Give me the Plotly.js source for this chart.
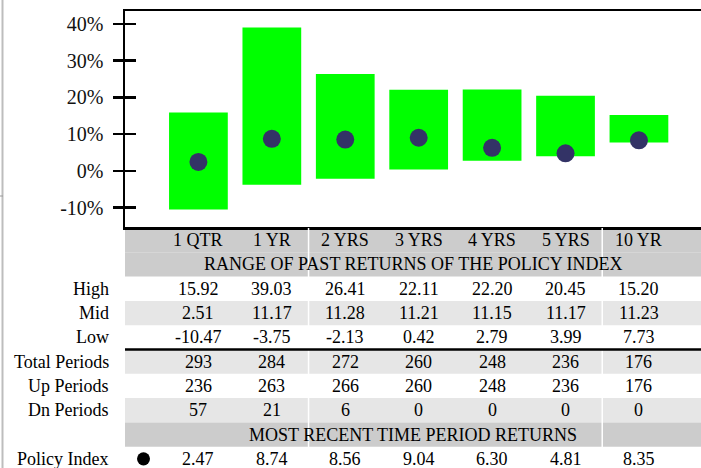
<!DOCTYPE html>
<html>
<head>
<meta charset="utf-8">
<script src="https://cdn.plot.ly/plotly-3.0.1.min.js"></script>
<style>html,body{margin:0;padding:0;background:#fff;}#chart{width:701px;height:468px;}</style>
</head>
<body>
<div id="chart"></div>
<script>
const categories = ['1 QTR', '1 YR', '2 YRS', '3 YRS', '4 YRS', '5 YRS', '10 YR'];
const high = [15.92, 39.03, 26.41, 22.11, 22.20, 20.45, 15.20];
const mid = [2.51, 11.17, 11.28, 11.21, 11.15, 11.17, 11.23];
const low = [-10.47, -3.75, -2.13, 0.42, 2.79, 3.99, 7.73];
const totalPeriods = [293, 284, 272, 260, 248, 236, 176];
const upPeriods = [236, 263, 266, 260, 248, 236, 176];
const dnPeriods = [57, 21, 6, 0, 0, 0, 0];
const policyIndex = [2.47, 8.74, 8.56, 9.04, 6.30, 4.81, 8.35];
const yTickVals = [-10, 0, 10, 20, 30, 40];
const yTickText = ['-10%', '0%', '10%', '20%', '30%', '40%'];
const rangeTitle = 'RANGE OF PAST RETURNS OF THE POLICY INDEX';
const recentTitle = 'MOST RECENT TIME PERIOD RETURNS';

const W = 701, H = 468;
const plotLeft = 125, plotTop = 11, plotBottom = 227, tableTop = 228;
const FONT = 'Liberation Serif, Times New Roman, serif';
const xIdx = categories.map((c, i) => i);

const traces = [
  {
    type: 'bar', x: xIdx, base: low, y: high.map((h, i) => h - low[i]),
    marker: {color: '#00ff00', line: {width: 0}}, width: 0.8,
    hoverinfo: 'skip', showlegend: false, xaxis: 'x', yaxis: 'y'
  },
  {
    type: 'scatter', mode: 'markers', x: xIdx, y: policyIndex,
    marker: {color: '#333366', size: 18}, hoverinfo: 'skip', showlegend: false,
    xaxis: 'x', yaxis: 'y'
  },
  {
    type: 'scatter', mode: 'markers', x: xIdx, y: policyIndex,
    marker: {opacity: 0}, hoverinfo: 'skip', showlegend: false,
    xaxis: 'x', yaxis: 'y3'
  }
];

const rowsY = {header: 0, range: 1, high: 2, mid: 3, low: 4, total: 5, up: 6, dn: 7, recent: 8, policy: 9};
const annotations = [];
const cellFont = {family: FONT, size: 18, color: '#000'};
function cell(x, row, text, xref) {
  annotations.push({x: x, y: row, xref: xref || 'x', yref: 'y2', text: text, showarrow: false,
    font: cellFont, xanchor: 'center', yanchor: 'middle'});
}
function label(row, text) {
  annotations.push({x: 111 / W, y: row, xref: 'paper', yref: 'y2', text: text, showarrow: false,
    font: cellFont, xanchor: 'right', yanchor: 'middle'});
}
categories.forEach((c, i) => {
  cell(i, rowsY.header, c);
  cell(i, rowsY.high, high[i].toFixed(2));
  cell(i, rowsY.mid, mid[i].toFixed(2));
  cell(i, rowsY.low, low[i].toFixed(2));
  cell(i, rowsY.total, String(totalPeriods[i]));
  cell(i, rowsY.up, String(upPeriods[i]));
  cell(i, rowsY.dn, String(dnPeriods[i]));
  cell(i, rowsY.policy, policyIndex[i].toFixed(2));
});
cell((plotLeft + W) / 2 / W, rowsY.range, rangeTitle, 'paper');
cell((plotLeft + W) / 2 / W, rowsY.recent, recentTitle, 'paper');
label(rowsY.high, 'High');
label(rowsY.mid, 'Mid');
label(rowsY.low, 'Low');
label(rowsY.total, 'Total Periods');
label(rowsY.up, 'Up Periods');
label(rowsY.dn, 'Dn Periods');
label(rowsY.policy, 'Policy Index');

const shapes = [];
function band(row, color) {
  shapes.push({type: 'rect', xref: 'paper', yref: 'y2', x0: plotLeft / W, x1: 1,
    y0: row - 0.5, y1: row + 0.5, fillcolor: color, line: {width: 0}, layer: 'below'});
}
band(rowsY.header, '#cccccc');
band(rowsY.range, '#cccccc');
band(rowsY.mid, '#e6e6e6');
band(rowsY.total, '#e6e6e6');
band(rowsY.dn, '#e6e6e6');
band(rowsY.recent, '#cccccc');
// white column separators
[1.5, 5.5].forEach(xv => {
  shapes.push({type: 'line', xref: 'x', yref: 'y2', x0: xv, x1: xv, y0: -0.5, y1: 9.5,
    line: {color: '#ffffff', width: 1.5}, layer: 'below'});
});
// black separator between Low and Total Periods
shapes.push({type: 'line', xref: 'paper', yref: 'y2', x0: plotLeft / W, x1: 1, y0: 4.5, y1: 4.5,
  line: {color: '#000', width: 2.5}});
// legend dot in policy row
shapes.push({type: 'circle', xref: 'paper', yref: 'y2', x0: 137 / W, x1: 150 / W, y0: 9 - 0.27, y1: 9 + 0.27,
  fillcolor: '#000', line: {width: 0}});
// gray frame remnant at left
shapes.push({type: 'line', xref: 'paper', yref: 'paper', x0: 2.5 / W, x1: 2.5 / W, y0: 0, y1: 1,
  line: {color: '#bdbdbd', width: 2}});
shapes.push({type: 'line', xref: 'paper', yref: 'paper', x0: 0, x1: 3 / W, y0: 1 - 196 / H, y1: 1 - 196 / H,
  line: {color: '#9a9a9a', width: 1}});

const yRange = [-15.24, 43.53];
const rowPx = 24.3;
const tableRows = (H - tableTop) / rowPx;

const layout = {
  width: W, height: H,
  margin: {l: 0, r: 0, t: 0, b: 0, pad: 0},
  paper_bgcolor: '#ffffff', plot_bgcolor: '#ffffff',
  showlegend: false,
  bargap: 0.2,
  xaxis: {
    domain: [plotLeft / W, 1], range: [-1, -1 + (W - plotLeft) / 73.42],
    showgrid: false, zeroline: false, showticklabels: false, ticks: '',
    showline: true, linecolor: '#000', linewidth: 2.5, mirror: true, fixedrange: true
  },
  yaxis: {
    domain: [1 - plotBottom / H, 1 - plotTop / H], range: yRange,
    showgrid: false, zeroline: false, showline: true, linecolor: '#000', linewidth: 2.5,
    tickvals: yTickVals, ticktext: yTickText, ticks: 'outside', ticklen: 10, tickwidth: 2.5,
    tickcolor: '#000', ticklabelstandoff: 5,
    tickfont: {family: FONT, size: 20, color: '#111'}, fixedrange: true
  },
  yaxis3: {
    overlaying: 'y', anchor: 'x', range: yRange, side: 'left',
    tickvals: yTickVals, ticks: 'inside', ticklen: 11, tickwidth: 2.5, tickcolor: '#000',
    showticklabels: false, showgrid: false, zeroline: false, showline: false, fixedrange: true
  },
  yaxis2: {
    domain: [0, 1 - tableTop / H], range: [tableRows - 0.5, -0.5],
    visible: false, fixedrange: true, anchor: 'x'
  },
  annotations: annotations,
  shapes: shapes
};

Plotly.newPlot('chart', traces, layout, {displayModeBar: false, staticPlot: true});
</script>
</body>
</html>
